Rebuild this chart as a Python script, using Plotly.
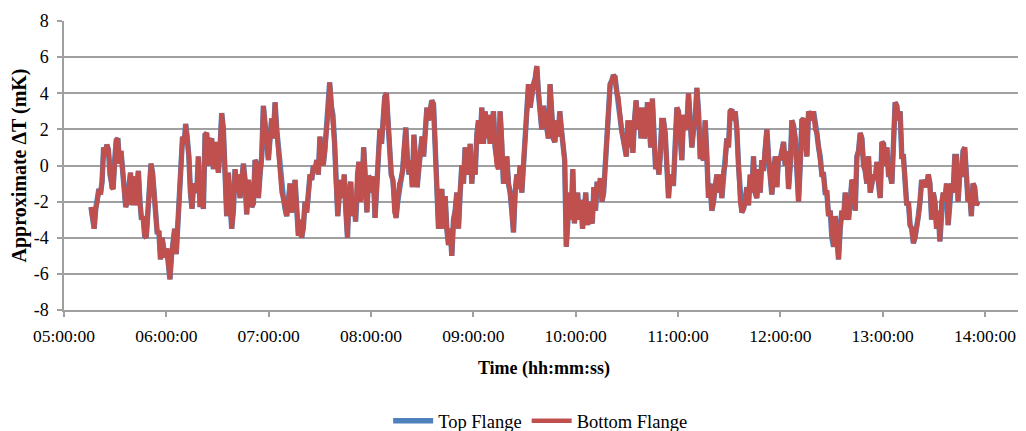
import pandas as pd
import plotly.graph_objects as go

DAY = "2000-01-01 "

# Readings of approximate delta-T (mK), grouped in consecutive blocks of time
seg1_span = ("05:15:50", "06:18:46")
seg1 = [-2.3, -3.0, -3.5, -2.4, -2.0, -1.3, -1.6, -0.9, 1.0, 0.5, 1.15, 0.9, -0.5, -1.2, -1.3, 0.3,
        1.4, 1.5, 0.1, 0.8, -0.3, -0.8, -2.3, -2.0, -0.9, -0.4, -2.2, -0.6, -2.2, -1.0, -0.3, -2.0,
        -3.0, -2.8, -3.9, -4.0, -2.4, -1.0, 0.1, -0.4, -1.5, -2.1, -3.8, -3.6, -5.2, -4.0, -4.5, -5.1,
        -4.6, -5.5, -6.3, -5.0, -4.0, -3.5, -4.9, -3.2, -0.5, 0.0, 1.6, 1.2, 2.3, 1.5, 0.5, -1.5,
        -2.4, -1.0, -1.2, -1.5, 0.5]

seg2_span = ("06:19:46", "07:26:13")
seg2 = [-2.3, -1.5, -2.4, 1.7, 1.8, 0.0, 1.3, 1.5, -0.2, 1.3, 0.2, -0.4, 1.0, 2.9, 2.0, 0.0,
        -2.8, -0.4, -2.5, -3.5, -2.5, -0.2, -1.5, -0.5, -1.8, -0.5, 0.1, -0.8, -2.7, -0.8, -1.5, -2.3,
        -2.1, 0.3, 0.1, -1.8, -0.5, 0.5, 3.3, 2.0, 1.5, 0.3, 1.5, 2.6, 1.5, 3.5, 2.0, 1.0,
        -0.5, -1.5, -1.8, -2.4, -2.8, -2.0, -1.0, -2.6, -2.0, -0.8, -2.5, -3.9, -3.0, -4.0, -3.4, -2.0,
        -2.6, -1.0, -0.5, -0.8, 0.0]

seg3_span = ("07:27:13", "08:34:40")
seg3 = [-0.3, 0.3, -0.5, 1.6, 0.5, 0.0, 0.8, 2.5, 3.0, 4.6, 3.3, 2.8, 1.3, -1.0, -2.8, -1.5,
        -0.8, -1.8, -0.5, -2.5, -4.0, -1.5, -0.9, -2.8, -1.8, -3.1, -0.5, 0.2, -2.0, -1.3, 1.0, -0.5,
        -2.6, -0.6, -0.7, -1.5, -0.6, -2.9, -1.5, 0.0, 2.0, 1.2, 2.8, 3.8, 4.0, 2.5, 0.5, -0.5,
        -0.8, -2.6, -2.9, -2.0, -1.0, -0.8, -0.3, 1.0, 2.1, 0.3, -0.5, 0.3, -1.2, 1.7, 0.0, -1.2,
        -0.2, 0.8, 1.6, 0.5, 1.8, 3.2, 2.5, 3.3]

seg4_span = ("08:35:40", "09:41:07")
seg4 = [3.6, 3.4, 1.5, -1.0, -3.5, -2.8, -1.3, -3.5, -1.7, -3.5, -4.4, -3.5, -5.0, -3.0, -2.5, -1.5,
        -3.5, -1.5, 0.0, -1.0, 1.0, 0.0, -0.5, 1.2, -1.0, 0.5, -0.5, 1.7, 2.5, 1.2, 3.2, 1.2,
        3.0, 1.5, 2.8, 1.2, 2.3, 3.0, 1.0, 0.0, -0.2, 3.0, 1.5, -1.0, -0.5, 0.5, -1.0, -1.5,
        -2.5, -3.7, -1.5, -0.5, -1.3, 0.0, -1.5, 0.2, 1.5, 3.5, 4.5, 3.2, 4.1, 4.5, 4.8, 5.5,
        4.0, 2.8, 2.0, 3.3]

seg5_span = ("09:42:07", "10:48:47")
seg5 = [2.5, 1.8, 1.5, 4.5, 3.0, 1.5, 1.3, 2.5, 1.6, 3.0, 2.0, 1.1, 0.3, -4.5, -3.0, -1.5,
        -3.0, -0.2, -3.2, -2.0, -1.5, -3.0, -1.9, -3.5, -2.2, -1.5, -3.3, -2.0, -3.0, -3.2, -1.2, -2.5,
        -0.9, -1.5, -0.7, -2.0, -1.5, 0.0, 1.5, 2.8, 4.5, 4.7, 5.0, 4.9, 4.0, 3.8, 2.5, 2.0,
        1.5, 0.8, 0.5, 2.5, 1.0, 2.5, 0.7, 2.5, 3.6, 2.0, 3.2, 1.5, 3.2, 1.5, 2.0, 3.5,
        2.5, 1.0, 3.7, 1.0, -0.2, 0.5, -0.5]

seg6_span = ("10:49:33", "11:56:00")
seg6 = [0.5, 2.5, 2.5, 1.8, 0.0, -1.8, -0.5, -1.0, -1.0, 1.5, 3.2, 3.0, 1.5, 0.3, 2.8, 2.0,
        2.2, 4.0, 2.5, 1.0, 2.0, 2.5, 4.3, 3.0, 0.5, 0.5, 0.3, 2.5, 0.5, -1.8, -1.0, -2.5,
        -2.0, -1.2, -0.5, -1.5, -0.5, -1.8, -0.3, 0.0, 1.5, 1.0, 3.0, 3.1, 2.5, 3.0, 2.0, 0.0,
        -2.0, -2.6, -2.4, -2.0, -1.2, -2.2, -0.5, -1.5, 0.5, -1.5, -1.8, -0.2, -1.5, 0.3, -0.3, 1.0,
        2.0, 0.5, -0.5, -1.6, -0.5]

seg7_span = ("11:57:00", "12:57:35")
seg7 = [0.5, -1.2, 0.5, 0.3, 0.8, 1.3, 0.0, 0.8, -1.3, 0.0, 2.5, 2.2, 1.5, -0.5, -2.0, 0.0,
        2.5, 2.6, 1.0, 0.5, 3.0, 2.8, 2.5, 3.0, 2.0, 1.8, 1.0, 0.5, -0.5, -0.5, -1.5, -1.5,
        -2.8, -2.5, -4.0, -4.5, -2.8, -4.5, -5.2, -3.5, -2.5, -3.0, -1.5, -2.5, -3.0, -2.0, -0.8, -1.0,
        -2.5, 0.5, 0.8, 1.8, 1.5, 0.0, -0.3, -1.0, 0.5, -1.5, -1.0, -0.5, -0.8, 0.2, -1.0]

seg8_span = ("12:58:35", "13:55:53")
seg8 = [-1.8, 1.3, 1.2, 0.0, 1.0, -0.5, -0.5, -1.0, 2.0, 3.5, 3.3, 2.5, 3.0, 0.5, 0.5, -1.5,
        -2.2, -2.0, -3.3, -3.5, -4.3, -4.0, -3.5, -2.8, -2.0, -0.8, -1.2, -0.8, -1.2, -0.5, -1.0, -3.0,
        -1.5, -2.0, -3.5, -2.5, -4.2, -2.0, -1.5, -2.0, -1.0, -3.3, -1.8, -1.0, -1.5, 0.5, 0.5, -2.0,
        -0.5, -0.5, 0.8, 1.0, -0.5, -2.0, -1.5, -2.8, -1.0, -1.2, -2.2, -2.0]

segments = [(seg1_span, seg1), (seg2_span, seg2), (seg3_span, seg3), (seg4_span, seg4),
            (seg5_span, seg5), (seg6_span, seg6), (seg7_span, seg7), (seg8_span, seg8)]

y_tick_vals = [-8, -6, -4, -2, 0, 2, 4, 6, 8]
y_tick_text = ["-8", "-6", "-4", "-2", "0", "2", "4", "6", "8"]

times = []
bottom_flange = []
for (t0, t1), vals in segments:
    times.extend(pd.date_range(DAY + t0, DAY + t1, periods=len(vals)))
    bottom_flange.extend(vals)
top_flange = list(bottom_flange)

FONT = "Liberation Serif, Times New Roman, serif"
GRID = "#a0a0a0"

fig = go.Figure()
fig.add_trace(go.Scatter(x=times, y=top_flange, mode="lines", name="Top Flange",
                         line=dict(color="#4F81BD", width=5.4)))
fig.add_trace(go.Scatter(x=times, y=bottom_flange, mode="lines", name="Bottom Flange",
                         line=dict(color="#C0504D", width=4.6)))

# page body has an 8px margin, so the figure is sized/margined to compensate
fig.update_layout(
    template="none",
    width=1018, height=423,
    margin=dict(l=56, r=2, t=13, b=121, autoexpand=False),
    paper_bgcolor="white", plot_bgcolor="white",
    font=dict(family=FONT, size=17, color="black"),
    showlegend=True,
    legend=dict(orientation="h", x=0.496, xanchor="center", y=-0.385, yanchor="middle",
                font=dict(family=FONT, size=18.5, color="black"), itemwidth=40,
                traceorder="normal", bgcolor="rgba(0,0,0,0)"),
)
fig.update_xaxes(
    type="date", automargin=False,
    range=[DAY + "05:00:00", DAY + "14:22:52"],
    tick0=DAY + "05:00:00", dtick=3600000, tickformat="%H:%M:%S",
    showgrid=False, showline=True, linecolor=GRID, linewidth=1.5,
    ticks="outside", ticklen=5, tickcolor=GRID, tickwidth=1.5,
    ticklabelstandoff=4,
    tickfont=dict(family=FONT, size=17.5, color="black"),
    title=dict(text="<b>Time (hh:mm:ss)</b>", font=dict(family=FONT, size=18), standoff=17),
    zeroline=False,
)
fig.update_yaxes(
    automargin=False,
    range=[-8, 8], tickvals=y_tick_vals, ticktext=y_tick_text,
    showgrid=True, gridcolor=GRID, gridwidth=1.5,
    showline=True, linecolor=GRID, linewidth=1.5,
    ticks="outside", ticklen=5, tickcolor=GRID, tickwidth=1.5,
    ticklabelstandoff=5,
    tickfont=dict(family=FONT, size=18, color="black"),
    title=dict(text="<b>Approximate ΔT (mK)</b>", font=dict(family=FONT, size=20), standoff=2),
    zeroline=False,
)

fig.write_html("out.html")
